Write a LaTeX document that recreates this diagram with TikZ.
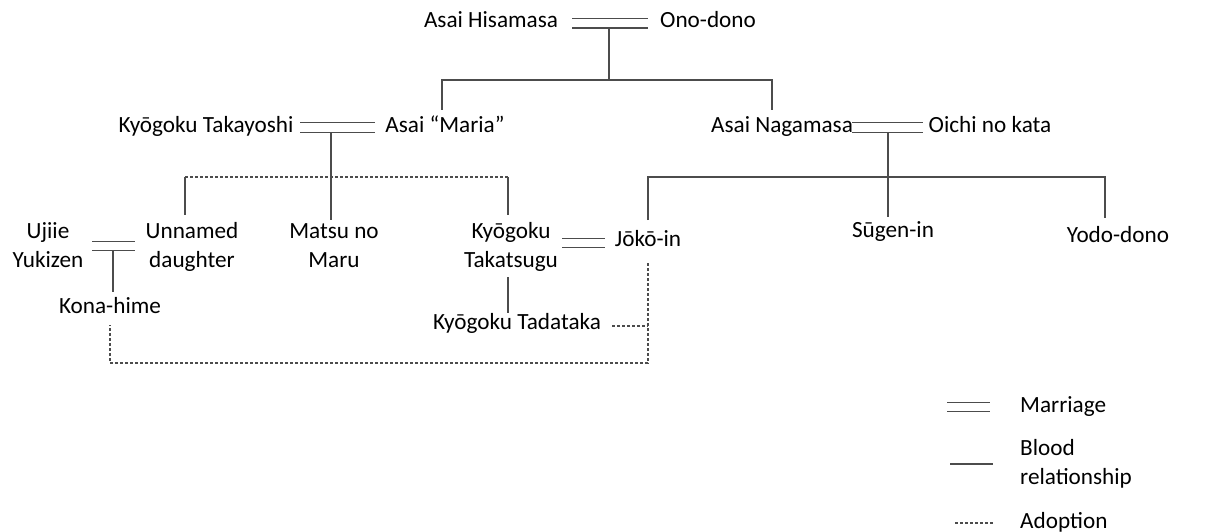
\documentclass[tikz,border=0pt]{standalone}
\usepackage{fontspec}
\setmainfont{Carlito}
\begin{document}
\begin{tikzpicture}[x=1pt,y=-1pt,
  lbl/.style={anchor=base,inner sep=0pt,font=\fontsize{23.2}{28.5}\selectfont,align=center,text=black},
  blood/.style={draw=black!70,line width=1.1pt},
  adopt/.style={draw=black!70,line width=1.1pt,dash pattern=on 3pt off 2pt},
  marr/.style={draw=black!70,double,double distance=8pt,line width=1.1pt}]
\useasboundingbox (0,0) rectangle (1217,532);
% people
\node[lbl] (hisa) at (491,28) {Asai Hisamasa};
\node[lbl] (ono) at (708,28) {Ono-dono};
\node[lbl] (taka) at (206,132) {Kyōgoku Takayoshi};
\node[lbl] (maria) at (445,132) {Asai “Maria”};
\node[lbl] (naga) at (782,132) {Asai Nagamasa};
\node[lbl] (oichi) at (990,132) {Oichi no kata};
\node[lbl] (ujiie) at (48,267) {Ujiie\\Yukizen};
\node[lbl] (unnamed) at (192,267) {Unnamed\\daughter};
\node[lbl] (matsu) at (334,267) {Matsu no\\Maru};
\node[lbl] (takatsugu) at (511,267) {Kyōgoku\\Takatsugu};
\node[lbl] (joko) at (648,246) {Jōkō-in};
\node[lbl] (sugen) at (893,237) {Sūgen-in};
\node[lbl] (yodo) at (1118,242) {Yodo-dono};
\node[lbl] (kona) at (110,313) {Kona-hime};
\node[lbl] (tada) at (517,329) {Kyōgoku Tadataka};
% junction coordinates
\coordinate (m1a) at (572,23.5); \coordinate (m1b) at (648,23.5);
\coordinate (j1) at (609,28); \coordinate (h1) at (609,80);
\coordinate (h1l) at (442,80); \coordinate (h1r) at (772,80);
\coordinate (mariaT) at (442,110); \coordinate (nagaT) at (772,110);
\coordinate (m2a) at (300,127.5); \coordinate (m2b) at (375,127.5);
\coordinate (j2) at (331,132); \coordinate (matsuT) at (331,220);
\coordinate (h2l) at (185,177); \coordinate (h2r) at (508,177);
\coordinate (unnamedT) at (185,215); \coordinate (takatsuguT) at (508,215);
\coordinate (m3a) at (852,127.5); \coordinate (m3b) at (923,127.5);
\coordinate (j3) at (888,132); \coordinate (h3) at (888,177);
\coordinate (h3l) at (648,177); \coordinate (h3r) at (1105,177);
\coordinate (jokoT) at (648,220); \coordinate (sugenT) at (888,217); \coordinate (yodoT) at (1105,218);
\coordinate (m4a) at (92,246); \coordinate (m4b) at (135,246);
\coordinate (j4) at (113,251); \coordinate (konaT) at (113,292);
\coordinate (m5a) at (562,243); \coordinate (m5b) at (605,243);
\coordinate (takatsuguB) at (508,277); \coordinate (tadaT) at (508,313);
\coordinate (jokoB) at (648,263); \coordinate (adC1) at (648,363); \coordinate (adC2) at (110,363);
\coordinate (konaB) at (110,325); \coordinate (tadaE) at (612,326); \coordinate (tadaJ) at (648,326);
% marriages
\draw[marr] (m1a) -- (m1b);
\draw[marr] (m2a) -- (m2b);
\draw[marr] (m3a) -- (m3b);
\draw[marr] (m4a) -- (m4b);
\draw[marr] (m5a) -- (m5b);
% blood
\draw[blood] (j1) -- (h1);
\draw[blood] (mariaT) -- (h1l) -- (h1r) -- (nagaT);
\draw[blood] (j2) -- (matsuT);
\draw[blood] (h2l) -- (unnamedT);
\draw[blood] (h2r) -- (takatsuguT);
\draw[blood] (j3) -- (h3);
\draw[blood] (jokoT) -- (h3l) -- (h3r) -- (yodoT);
\draw[blood] (h3) -- (sugenT);
\draw[blood] (j4) -- (konaT);
\draw[blood] (takatsuguB) -- (tadaT);
% adoption
\draw[adopt] (h2l) -- (h2r);
\draw[adopt] (jokoB) -- (adC1) -- (adC2) -- (konaB);
\draw[adopt] (tadaE) -- (tadaJ);
% legend
\coordinate (lgm1) at (947,407); \coordinate (lgm2) at (990,407);
\coordinate (lgb1) at (950,464); \coordinate (lgb2) at (993,464);
\coordinate (lga1) at (955,523); \coordinate (lga2) at (993,523);
\draw[marr] (lgm1) -- (lgm2);
\draw[blood] (lgb1) -- (lgb2);
\draw[adopt] (lga1) -- (lga2);
\node[lbl,anchor=base west,align=left] (lm) at (1020,412) {Marriage};
\node[lbl,anchor=base west,align=left] (lb) at (1020,484) {Blood\\relationship};
\node[lbl,anchor=base west,align=left] (la) at (1020,528) {Adoption};
\end{tikzpicture}
\end{document}
